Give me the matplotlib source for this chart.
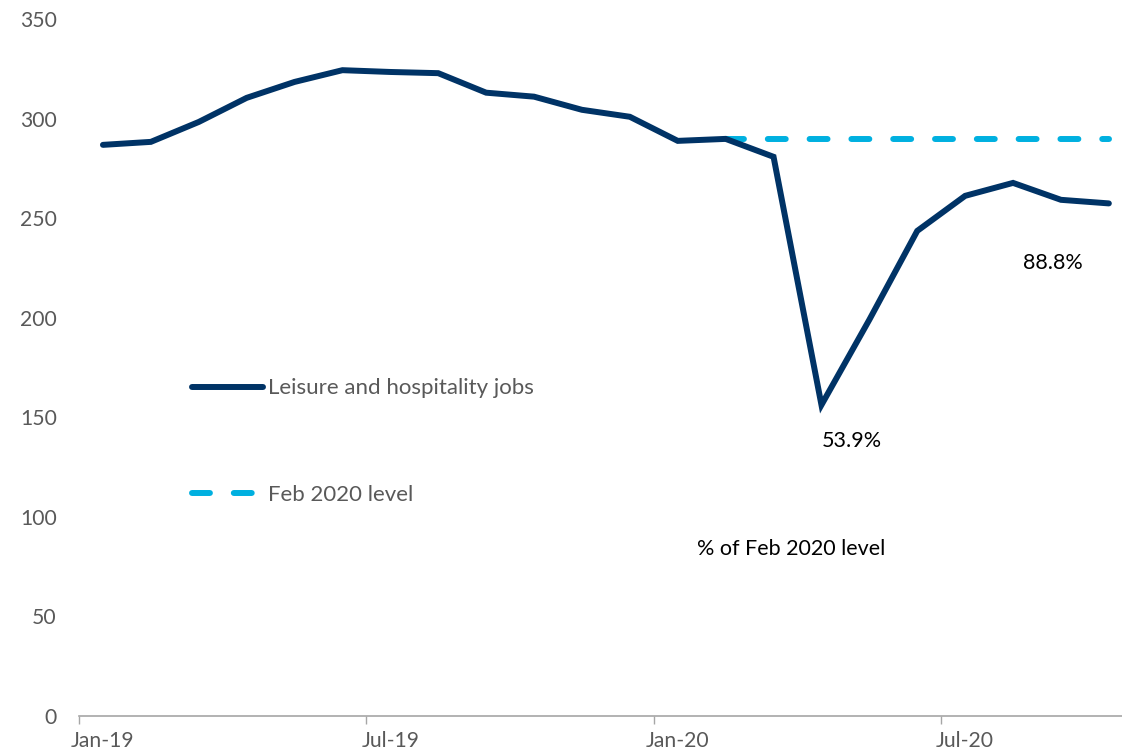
import matplotlib
matplotlib.use("Agg")
import matplotlib.pyplot as plt
import numpy as np

months = ["Jan-19","Feb-19","Mar-19","Apr-19","May-19","Jun-19","Jul-19","Aug-19",
          "Sep-19","Oct-19","Nov-19","Dec-19","Jan-20","Feb-20","Mar-20","Apr-20",
          "May-20","Jun-20","Jul-20","Aug-20","Sep-20","Oct-20"]
jobs = [286.8, 288.3, 298.3, 310.4, 318.4, 324.3, 323.4, 322.8, 313.0, 311.0, 304.4, 300.9,
        288.8, 289.8, 280.8, 156.2, 199.0, 243.6, 261.2, 267.7, 259.2, 257.4]
feb_idx = 13
tick_labels = ["Jan-19", "Jul-19", "Jan-20", "Jul-20"]
tick_months = [0, 6, 12, 18]

plt.rcParams['font.family'] = ['Lato', 'DejaVu Sans']
gray = "#595959"

fig = plt.figure(figsize=(11.22, 7.56), dpi=100)
ax = fig.add_axes([79/1122, 40/756, 22*47.9/1122, 697/756])

x = np.arange(len(jobs)) + 0.5
feb_level = jobs[feb_idx]
ax.plot(x, jobs, color="#003366", lw=4.3, solid_capstyle="round", solid_joinstyle="miter",
        label="Leisure and hospitality jobs", zorder=3)
ax.plot(x[feb_idx:], [feb_level]*len(x[feb_idx:]), color="#00B0E0", lw=4.3,
        dashes=(3, 4), dash_capstyle="round", label="Feb 2020 level", zorder=2)

ax.set_xlim(0, len(jobs))
ax.set_ylim(0, 350)
ax.set_yticks(range(0, 351, 50))
ax.tick_params(axis="y", length=0, pad=16, labelsize=15.2, labelcolor=gray)
ax.set_xticks(tick_months)
ax.set_xticklabels([""]*len(tick_months))
ax.set_xticks([t + 0.5 for t in tick_months], minor=True)
ax.set_xticklabels(tick_labels, minor=True)
ax.tick_params(axis="x", which="major", length=6, width=1, color="#A6A6A6", direction="out")
ax.tick_params(axis="x", which="minor", length=0, pad=11, labelsize=15.2, labelcolor=gray)

for s in ["top", "right", "left"]:
    ax.spines[s].set_visible(False)
ax.spines["bottom"].set_color("#A6A6A6")
ax.spines["bottom"].set_linewidth(1.2)

i_min = int(np.argmin(jobs))
ax.annotate(f"{jobs[i_min]/feb_level*100:.1f}%", (x[i_min], jobs[i_min]), xytext=(22, -26),
            textcoords="offset points", ha="center", va="center", fontsize=15.5, color="black")
ax.annotate(f"{jobs[-1]/feb_level*100:.1f}%", (x[-1], jobs[-1]), xytext=(-40, -43),
            textcoords="offset points", ha="center", va="center", fontsize=15.5, color="black")
ax.text(14.87, 84, "% of Feb 2020 level", ha="center", va="center", fontsize=15.5, color="black")

leg = ax.legend(loc="upper left", bbox_to_anchor=(0.088, 0.513), frameon=False, fontsize=16,
                handlelength=3.2, handletextpad=0.25, labelspacing=3.9, labelcolor=gray)

fig.savefig("out.png", dpi=100)
